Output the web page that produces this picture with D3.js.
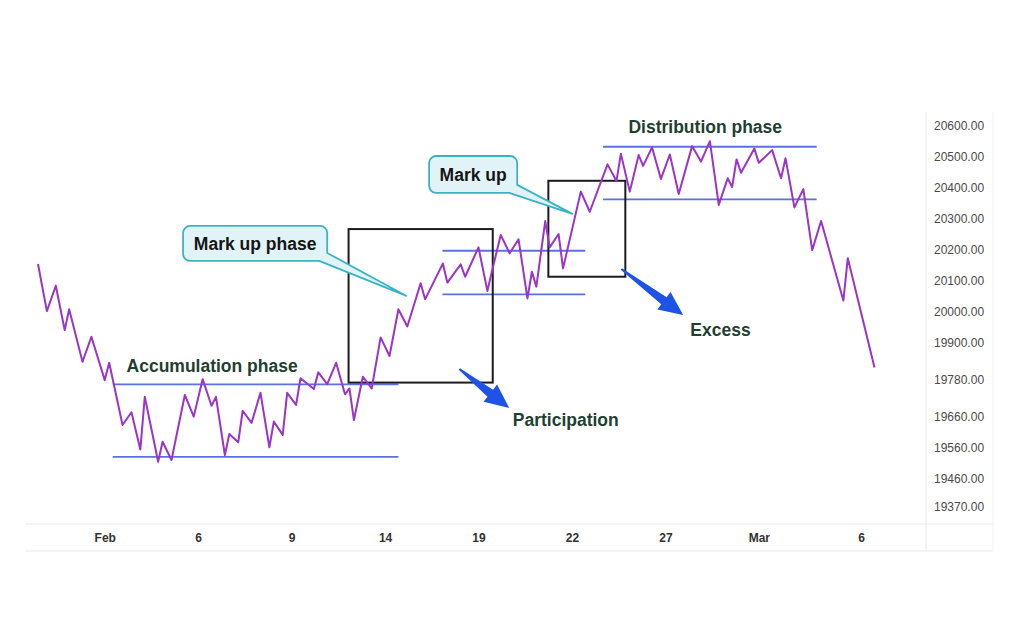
<!DOCTYPE html>
<html>
<head>
<meta charset="utf-8">
<script src="https://cdn.jsdelivr.net/npm/d3@7"></script>
<style>
  body { margin: 0; background: #fff; }
  svg { display: block; }
</style>
</head>
<body>
<svg id="chart" width="1024" height="640"></svg>
<script>
// price path, turning points only (bar index / price)
var bars   = [0, 2, 4, 6, 7, 10, 12, 15, 16, 19, 21, 23, 24, 27, 28, 30, 33, 35, 37, 39,
              40, 42, 43, 45, 46, 48, 50, 52, 53, 55, 56, 58, 59, 62, 63, 65, 67, 69, 70, 71,
              73, 75, 77, 79, 81, 83, 86, 87, 91, 92, 95, 96, 99, 101, 102, 104, 106, 108, 110, 111,
              112, 114, 115, 117, 118, 122, 124, 128, 130, 131, 133, 135, 136, 138, 140, 142, 144, 147, 149, 151,
              153, 155, 156, 157, 158, 161, 162, 165, 167, 168, 170, 172, 174, 176, 181, 182, 188];
var prices = [20154, 20002, 20084, 19941, 20008, 19838, 19919, 19779, 19835, 19634, 19675, 19555, 19725, 19515, 19580, 19521, 19731, 19661, 19782, 19696,
              19725, 19537, 19605, 19578, 19680, 19641, 19738, 19562, 19645, 19602, 19738, 19699, 19785, 19750, 19804, 19766, 19835, 19733, 19752, 19650,
              19790, 19752, 19917, 19857, 20008, 19952, 20092, 20040, 20156, 20094, 20153, 20113, 20208, 20067, 20129, 20248, 20189, 20234, 20043, 20129,
              20081, 20293, 20208, 20251, 20140, 20388, 20323, 20476, 20422, 20510, 20388, 20506, 20471, 20531, 20429, 20508, 20380, 20535, 20485, 20551,
              20345, 20431, 20403, 20492, 20449, 20527, 20481, 20522, 20431, 20496, 20337, 20396, 20199, 20293, 20036, 20173, 19820];

var tickBars   = [15, 36, 57, 78, 99, 120, 141, 162, 185];
var tickLabels = ["Feb", "6", "9", "14", "19", "22", "27", "Mar", "6"];
var priceTicks = [20600, 20500, 20400, 20300, 20200, 20100, 20000, 19900, 19780, 19660, 19560, 19460, 19370];

// support / resistance levels
var levelFrom  = [16.8, 16.8, 90.9, 90.9, 127, 127];
var levelTo    = [81, 81, 123, 123, 175, 175];
var levelPrice = [19765, 19531, 20197, 20056, 20533, 20363];

// highlighted boxes
var boxFrom = [69.8, 114.7];
var boxTo   = [102.2, 132.0];
var boxHigh = [20267, 20423];
var boxLow  = [19771, 20113];

// plain labels
var labelText  = ["Accumulation phase", "Participation", "Excess", "Distribution phase"];
var labelBar   = [19.9, 106.7, 146.6, 132.7];
var labelPrice = [19825, 19650, 19941, 20598];

// arrows
var arrowFromBar   = [94.7, 131.1];
var arrowFromPrice = [19815, 20138];
var arrowToBar     = [105.9, 145.0];
var arrowToPrice   = [19689, 19989];

// callouts
var calloutText     = ["Mark up phase", "Mark up"];
var calloutLeft     = [32.6, 87.9];
var calloutRight    = [65.0, 107.7];
var calloutTop      = [20277, 20503];
var calloutBottom   = [20164, 20384];
var calloutTipBar   = [82.8, 120.1];
var calloutTipPrice = [20051, 20316];

var svg = d3.select("#chart");

var x = d3.scaleLinear().domain([0, 188]).range([38, 874.5]);
var y = d3.scaleLinear().domain([19370, 20600]).range([506.7, 126]);

var frame = "#e9e9e9";
svg.append("line").attr("x1", 25).attr("x2", 993).attr("y1", 524).attr("y2", 524).attr("stroke", frame);
svg.append("line").attr("x1", 25).attr("x2", 993).attr("y1", 551).attr("y2", 551).attr("stroke", frame);
svg.append("line").attr("x1", 926).attr("x2", 926).attr("y1", 112).attr("y2", 551).attr("stroke", frame);
svg.append("line").attr("x1", 993).attr("x2", 993).attr("y1", 112).attr("y2", 551).attr("stroke", "#f1f1f1");

// axes
var yAxis = svg.append("g")
    .attr("transform", "translate(926,0)")
    .call(d3.axisRight(y).tickValues(priceTicks).tickFormat(d3.format(".2f")).tickSize(0).tickPadding(8));
yAxis.select(".domain").remove();
yAxis.selectAll("text")
    .attr("fill", "#4a4a4a")
    .style("font", "12px 'Liberation Sans', Arial, sans-serif");

var xAxis = svg.append("g")
    .attr("transform", "translate(0,524)")
    .call(d3.axisBottom(x).tickValues(tickBars).tickFormat(function(d, i) { return tickLabels[i]; }).tickSize(0).tickPadding(9));
xAxis.select(".domain").remove();
xAxis.selectAll("text")
    .attr("fill", "#333")
    .style("font", "600 12px 'Liberation Sans Narrow', 'Liberation Sans', Arial, sans-serif");

// levels
levelPrice.forEach(function(p, i) {
  svg.append("line")
      .attr("x1", x(levelFrom[i])).attr("x2", x(levelTo[i]))
      .attr("y1", y(p)).attr("y2", y(p))
      .attr("stroke", "#5b70e2").attr("stroke-width", 1.8);
});

// boxes
boxFrom.forEach(function(b, i) {
  svg.append("rect")
      .attr("x", x(b)).attr("y", y(boxHigh[i]))
      .attr("width", x(boxTo[i]) - x(b)).attr("height", y(boxLow[i]) - y(boxHigh[i]))
      .attr("fill", "none").attr("stroke", "#1c1c1c").attr("stroke-width", 2);
});

// price line
var pts = bars.map(function(b, i) { return [b, prices[i]]; });
svg.append("path")
    .datum(pts)
    .attr("fill", "none")
    .attr("stroke", "#9b34c8")
    .attr("stroke-width", 2)
    .attr("stroke-linejoin", "round")
    .attr("d", d3.line().x(function(d) { return x(d[0]); }).y(function(d) { return y(d[1]); }));

// arrows
arrowFromBar.forEach(function(b, i) {
  var tx = x(b), ty = y(arrowFromPrice[i]),
      px = x(arrowToBar[i]), py = y(arrowToPrice[i]);
  var dx = px - tx, dy = py - ty, len = Math.sqrt(dx * dx + dy * dy);
  var ux = dx / len, uy = dy / len, nx = -uy, ny = ux;
  var bx = px - ux * 24, by = py - uy * 24;
  var poly = [
    [tx + nx * 1, ty + ny * 1],
    [bx + nx * 4.5, by + ny * 4.5],
    [bx + nx * 11, by + ny * 11],
    [px, py],
    [bx - nx * 11, by - ny * 11],
    [bx - nx * 4.5, by - ny * 4.5],
    [tx - nx * 1, ty - ny * 1]
  ];
  svg.append("path")
      .attr("d", "M" + poly.join("L") + "Z")
      .attr("fill", "#1f52e6");
});

// labels
labelText.forEach(function(t, i) {
  svg.append("text")
      .attr("x", x(labelBar[i])).attr("y", y(labelPrice[i]))
      .attr("dy", "0.35em")
      .attr("fill", "#1f3f31")
      .style("font", "bold 17.5px 'Liberation Sans', Arial, sans-serif")
      .text(t);
});

// callouts
calloutText.forEach(function(t, i) {
  var l = x(calloutLeft[i]), r = x(calloutRight[i]),
      tp = y(calloutTop[i]), bt = y(calloutBottom[i]),
      tx = x(calloutTipBar[i]), ty = y(calloutTipPrice[i]), rr = 7;
  var d = "M" + (l + rr) + "," + tp +
          "H" + (r - rr) +
          "A" + rr + "," + rr + " 0 0 1 " + r + "," + (tp + rr) +
          "V" + (bt - 8) +
          "L" + tx + "," + ty +
          "L" + (r - 8) + "," + bt +
          "H" + (l + rr) +
          "A" + rr + "," + rr + " 0 0 1 " + l + "," + (bt - rr) +
          "V" + (tp + rr) +
          "A" + rr + "," + rr + " 0 0 1 " + (l + rr) + "," + tp + "Z";
  svg.append("path")
      .attr("d", d)
      .attr("fill", "#e2f3f7")
      .attr("stroke", "#3ab4c4")
      .attr("stroke-width", 1.8)
      .attr("stroke-linejoin", "round");
  svg.append("text")
      .attr("x", (l + r) / 2).attr("y", (tp + bt) / 2)
      .attr("dy", "0.35em")
      .attr("text-anchor", "middle")
      .attr("fill", "#151515")
      .style("font", "bold 17.5px 'Liberation Sans', Arial, sans-serif")
      .text(t);
});
</script>
</body>
</html>
